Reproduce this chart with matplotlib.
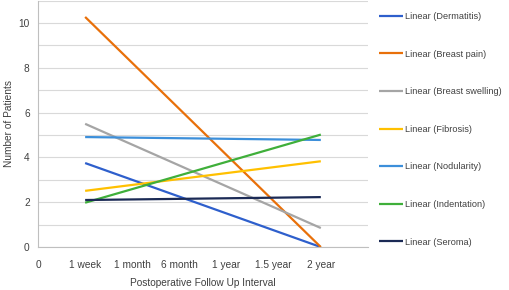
import numpy as np
import matplotlib.pyplot as plt

plt.rcParams['font.family'] = ['Liberation Sans', 'DejaVu Sans']

# category positions and labels on x
x_ticks = [0, 1, 2, 3, 4, 5, 6]
x_labels = ['0', '1 week', '1 month', '6 month', '1 year', '1.5 year', '2 year']

# linear trend lines: value at 1 week and at 2 year
names = ['Dermatitis', 'Breast pain', 'Breast swelling', 'Fibrosis',
         'Nodularity', 'Indentation', 'Seroma']
start_vals = [3.75, 10.27, 5.50, 2.51, 4.91, 1.98, 2.10]
end_vals = [0.0, 0.0, 0.85, 3.83, 4.78, 5.02, 2.23]
colors = ['#2E5FCC', '#E8700A', '#A5A5A5', '#FFC000', '#3C8FDA', '#3FAF3A', '#1B2A55']

fig = plt.figure(figsize=(5.1, 2.9), dpi=100)
ax = fig.add_axes([0.0745, 0.148, 0.647, 0.85])

for n, s, e, c in zip(names, start_vals, end_vals, colors):
    ax.plot([1, 6], [s, e], color=c, lw=1.6, label='Linear (' + n + ')',
            solid_capstyle='butt')

ax.set_xlim(0, 7)
ax.set_ylim(0, 11)
ax.set_xticks(x_ticks)
ax.set_xticklabels(x_labels)
ax.set_yticks(np.arange(0, 11, 2))
ax.set_yticks(np.arange(0, 12, 1), minor=True)
ax.grid(True, which='both', axis='y', color='#D9D9D9', lw=0.8)
ax.set_axisbelow(True)
for sp in ['top', 'right']:
    ax.spines[sp].set_visible(False)
for sp in ['left', 'bottom']:
    ax.spines[sp].set_color('#BFBFBF')
ax.tick_params(axis='both', which='both', length=0, labelsize=7.3,
               colors='#404040', pad=6)
ax.tick_params(axis='x', pad=9)
ax.set_ylabel('Number of Patients', fontsize=7.3, color='#404040', labelpad=3)
ax.set_xlabel('Postoperative Follow Up Interval', fontsize=7.3, color='#404040',
              labelpad=6)

ax.legend(loc='upper left', bbox_to_anchor=(1.015, 0.98), frameon=False,
          fontsize=6.6, labelspacing=3.12, handlelength=2.6, handletextpad=0.2,
          labelcolor='#404040', borderaxespad=0.3)

fig.savefig('out.png', dpi=100)
